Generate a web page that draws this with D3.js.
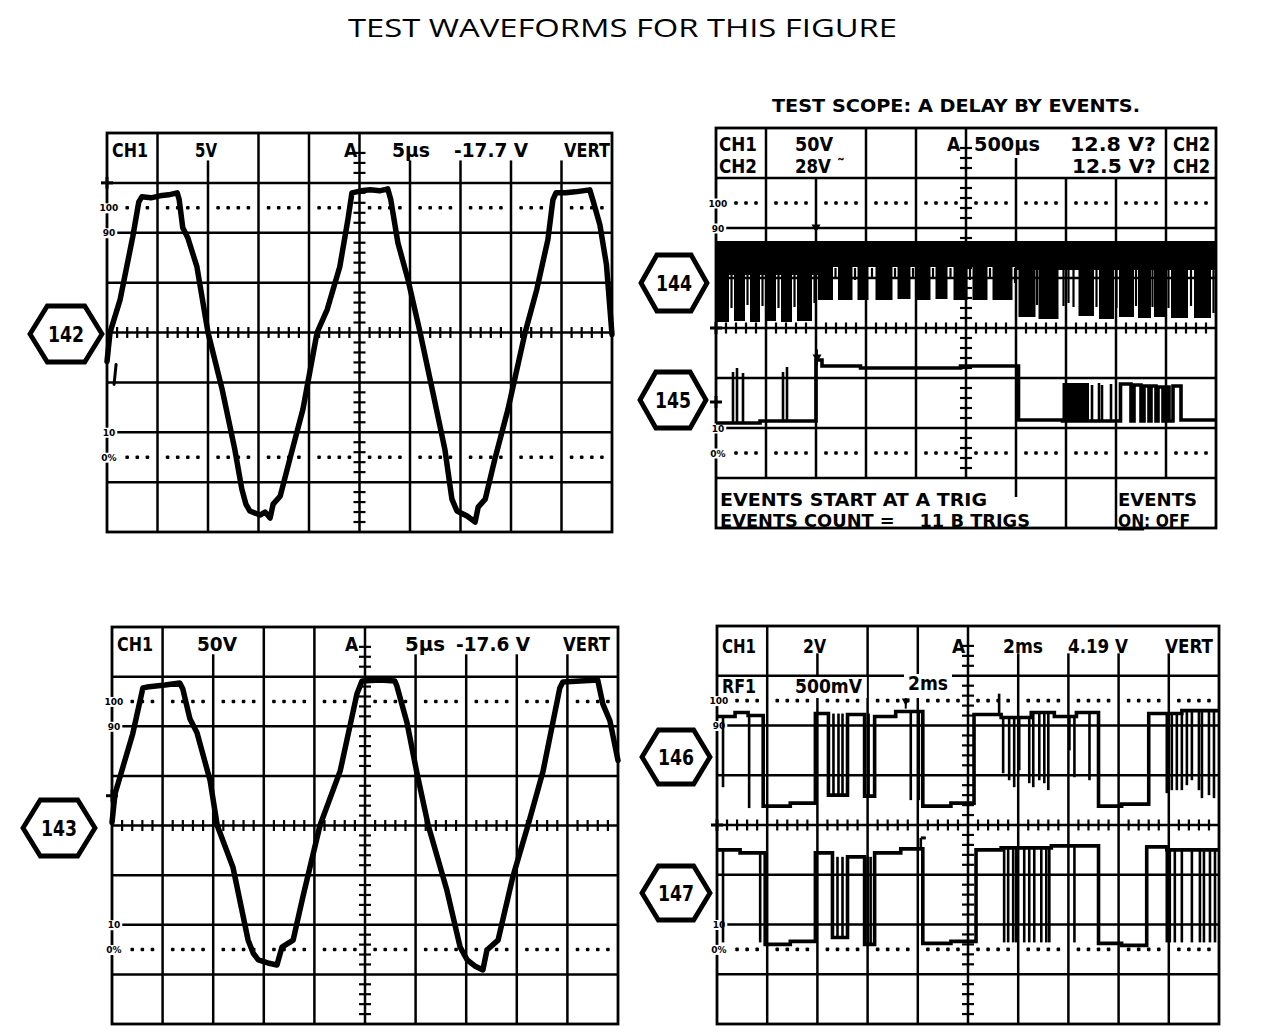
<!DOCTYPE html>
<html>
<head>
<meta charset="utf-8">
<script src="https://cdn.jsdelivr.net/npm/d3@7"></script>
<style>
  html, body { margin: 0; padding: 0; background: #fff; }
  svg { display: block; }
</style>
</head>
<body>
<svg id="chart" width="1266" height="1035"></svg>
<script>
// ---------------------------------------------------------------------------
// Waveform data. Time is in screen divisions (0..10, left to right),
// level is in divisions from the centre graticule line (+4 top, -4 bottom).
// ---------------------------------------------------------------------------

// 142: CH1 5 V/div, 5 us/div
const trace142 = [[0,-0.58],[0.06,0],[0.26,0.66],[0.51,1.92],[0.63,2.62],[0.69,2.72],[0.87,2.70],[1.05,2.74],[1.22,2.76],[1.39,2.80],[1.43,2.66],[1.50,2.10],[1.60,1.90],[1.78,1.32],[2.00,0],[2.28,-1.14],[2.53,-2.34],[2.67,-3.14],[2.75,-3.44],[2.83,-3.58],[3.03,-3.66],[3.13,-3.60],[3.23,-3.72],[3.29,-3.44],[3.43,-3.28],[3.62,-2.54],[3.88,-1.54],[4.16,0],[4.36,0.46],[4.61,1.32],[4.77,2.26],[4.85,2.80],[5.03,2.84],[5.21,2.86],[5.40,2.84],[5.56,2.88],[5.62,2.66],[5.76,1.80],[5.96,1.06],[6.20,0],[6.44,-1.14],[6.69,-2.34],[6.83,-3.34],[6.93,-3.58],[7.13,-3.68],[7.29,-3.80],[7.35,-3.50],[7.49,-3.34],[7.68,-2.54],[7.94,-1.54],[8.28,0],[8.51,0.86],[8.73,1.86],[8.83,2.66],[8.89,2.80],[9.08,2.80],[9.27,2.82],[9.56,2.86],[9.62,2.66],[9.76,2.16],[9.89,1.36],[10,-0.04]];
const trace142Fragment = [[0.18,-0.64],[0.14,-1.04]];

// 143: CH1 50 V/div, 5 us/div
const trace143 = [[0,0.06],[0.06,0.64],[0.41,1.85],[0.61,2.77],[0.69,2.79],[1.05,2.83],[1.34,2.87],[1.40,2.75],[1.54,2.15],[1.68,1.87],[1.94,0.90],[2.08,0],[2.39,-0.84],[2.69,-2.31],[2.79,-2.57],[2.89,-2.71],[3.08,-2.77],[3.26,-2.81],[3.36,-2.45],[3.58,-2.31],[3.77,-1.45],[4.11,0],[4.51,1.10],[4.84,2.65],[4.94,2.91],[5.30,2.93],[5.59,2.91],[5.63,2.81],[5.83,2.07],[6.03,1.04],[6.25,0],[6.62,-1.31],[6.88,-2.45],[7.02,-2.71],[7.17,-2.83],[7.33,-2.91],[7.41,-2.51],[7.63,-2.31],[7.92,-1.04],[8.22,0],[8.52,1.10],[8.85,2.77],[8.91,2.89],[9.25,2.91],[9.60,2.93],[9.70,2.45],[9.84,2.11],[10,1.31]];

// 144: CH1 dense pulse train — upper rail, solid band, pulse bars and stubs
const top144 = 1.74;
const shoulder144 = [[0,2.04,1.06],[2.04,6.0,1.22],[6.0,10,1.16]];
const bars144 = [[0,0.26,0.12],[0.36,0.58,0.14],[0.68,0.88,0.12],[0.98,1.20,0.14],[1.30,1.52,0.12],[1.62,1.92,0.14],
  [2.04,2.34,0.56],[2.44,2.73,0.56],[2.83,3.05,0.56],[3.19,3.53,0.56],[3.63,3.89,0.58],[3.99,4.29,0.56],[4.39,4.63,0.58],[4.75,5.03,0.56],[5.13,5.43,0.56],[5.53,5.93,0.56],
  [6.05,6.39,0.22],[6.45,6.85,0.18],[7.25,7.56,0.24],[7.66,7.96,0.18],[8.06,8.36,0.22],[8.44,8.70,0.20],[8.76,9.00,0.22],[9.10,9.44,0.20],[9.56,9.90,0.20]];
const stubs144 = [[0.31,0.40],[0.63,0.46],[0.93,0.44],[1.25,0.40],[1.57,0.42],[1.97,0.50],[2.39,1.00],[2.78,0.96],[3.12,1.00],[3.58,0.98],[3.94,1.02],[4.34,0.98],[4.69,1.00],[5.08,0.96],[5.48,1.00],[5.98,0.90],[6.42,0.46],[6.95,0.44],[7.05,0.50],[7.15,0.42],[7.61,0.42],[8.01,0.40],[8.40,0.44],[8.73,0.42],[9.05,0.40],[9.50,0.44],[9.95,0.30]];

// 145: CH2 event line — level segments [t0, t1, level], filled burst, narrow spikes
const levels145 = [[0,0.88,-1.90],[0.88,2.00,-1.86],[2.00,2.12,-0.64],[2.12,2.89,-0.76],[2.89,4.89,-0.80],[4.89,6.05,-0.76],[6.05,6.93,-1.84],[6.93,7.50,-1.86],[7.50,8.09,-1.86],[8.09,8.30,-1.12],[8.30,8.36,-1.86],[8.36,8.50,-1.14],[8.50,8.56,-1.86],[8.56,8.66,-1.16],[8.66,8.70,-1.86],[8.70,8.80,-1.16],[8.80,8.84,-1.86],[8.84,8.94,-1.18],[8.94,9.00,-1.86],[9.00,9.06,-1.18],[9.06,9.14,-1.86],[9.14,9.30,-1.16],[9.30,10,-1.84]];
const burst145 = [[6.93,7.46,-1.10]];
const spikes145 = [[0.34,-0.88],[0.42,-0.80],[0.54,-0.90],[1.34,-0.88],[1.42,-0.78],[7.52,-1.14],[7.66,-1.10],[7.72,-1.14],[7.90,-1.12]];

// 146: CH1 2 V/div, 2 ms/div
const levels146 = [[0,0.36,2.18],[0.36,0.62,2.26],[0.62,0.92,2.20],[0.92,1.46,0.38],[1.46,1.96,0.44],[1.96,2.22,2.24],[2.22,2.60,0.60],[2.60,2.94,2.22],[2.94,3.14,0.58],[3.14,3.56,2.18],[3.56,4.10,2.28],[4.10,4.66,0.38],[4.66,5.12,0.44],[5.12,5.66,2.22],[5.66,6.26,2.16],[6.26,6.72,2.26],[6.72,7.16,2.18],[7.16,7.60,2.26],[7.60,8.06,0.38],[8.06,8.60,0.42],[8.60,9.26,2.24],[9.26,10,2.30]];
const spikes146 = [[0.12,0.76],[0.64,0.34],[2.32,2.24],[2.42,2.24],[2.50,2.24],[3.02,2.24],[3.86,0.50],[4.02,0.50],[5.62,2.64],[5.70,1.04],[5.82,0.90],[5.92,0.76],[6.02,1.10],[6.22,0.84],[6.30,0.76],[6.42,0.90],[6.52,0.84],[6.60,0.70],[7.02,1.50],[7.12,0.96],[7.42,0.90],[8.96,0.64],[9.06,0.70],[9.16,0.70],[9.26,0.70],[9.36,0.80],[9.46,0.90],[9.60,0.70],[9.66,0.54],[9.80,0.60],[9.90,0.54]];

// 147: RF1 500 mV/div, 2 ms/div
const levels147 = [[0,0.46,-0.50],[0.46,0.96,-0.56],[0.96,1.46,-2.40],[1.46,1.96,-2.34],[1.96,2.30,-0.56],[2.30,2.60,-2.26],[2.60,2.94,-0.64],[2.94,3.14,-2.40],[3.14,3.66,-0.56],[3.66,4.10,-0.48],[4.10,4.66,-2.38],[4.66,5.16,-2.34],[5.16,5.66,-0.50],[5.66,6.66,-0.46],[6.66,7.60,-0.42],[7.60,8.06,-2.38],[8.06,8.56,-2.42],[8.56,8.96,-0.44],[8.96,10,-0.50]];
const spikes147 = [[0.12,-2.36],[0.86,-2.36],[2.40,-0.64],[2.50,-0.64],[3.00,-0.64],[3.06,-0.64],[4.06,-0.26],[5.72,-2.36],[5.80,-2.36],[5.90,-2.36],[5.96,-2.36],[6.12,-2.36],[6.22,-2.36],[6.32,-2.36],[6.46,-2.36],[6.56,-2.36],[6.62,-2.36],[7.12,-2.36],[8.96,-2.36],[9.02,-2.36],[9.12,-2.36],[9.26,-2.36],[9.46,-2.36],[9.62,-2.36],[9.70,-2.36],[9.82,-2.36],[9.92,-2.36]];

// Screen read-outs and annotations
const titleText = "TEST WAVEFORMS FOR THIS FIGURE";
const subtitleText = "TEST SCOPE: A DELAY BY EVENTS.";
const readout142 = ["CH1", "5V", "A", "5µs", "-17.7 V", "VERT"];
const readout143 = ["CH1", "50V", "A", "5µs", "-17.6 V", "VERT"];
const readout144Row1 = ["CH1", "50V", "A", "500µs", "12.8 V?", "CH2"];
const readout144Row2 = ["CH2", "28V ˜", "12.5 V?", "CH2"];
const eventsRow1 = ["EVENTS START AT A TRIG", "EVENTS"];
const eventsRow2 = ["EVENTS COUNT =    11 B TRIGS", "ON: OFF"];
const readout146 = ["CH1", "2V", "A", "2ms", "4.19 V", "VERT"];
const readout147 = ["RF1", "500mV", "2ms"];
const levelLabels = ["100", "90", "10", "0%"];
const levelValues = [2.5, 2, -2, -2.5];
const traceIds = ["142", "143", "144", "145", "146", "147"];

// ---------------------------------------------------------------------------
const svg = d3.select("#chart");
const FONT = "'DejaVu Sans Condensed','DejaVu Sans',sans-serif";
const GRID_W = 2.5;

function panel(p) {
  p.x = d3.scaleLinear().domain([0, 10]).range([p.x0, p.x1]);
  p.y = d3.scaleLinear().domain([-4, 4]).range([p.y1, p.y0]);
  return p;
}

const PTL = panel({x0: 107, x1: 612, y0: 133, y1: 532, headFull: [1, 3, 4], headPart: [2, 6, 7, 8, 9], partLen: 0.45});
const PBL = panel({x0: 112, x1: 618, y0: 627, y1: 1024, headFull: [1, 3, 4], headPart: [2, 6, 7, 8, 9], partLen: 0.45});
const PTR = panel({x0: 716, x1: 1216, y0: 128, y1: 528, headFull: [1, 3, 4, 9], headPart: [6], partLen: 0.4,
                   footer: true, footFull: [7, 8], footPart: [6]});
const PBR = panel({x0: 717, x1: 1219, y0: 626, y1: 1024, headFull: [1, 3, 4], headPart: [2, 6, 7, 8, 9], partLen: 0.45});

function seg(g, x1, y1, x2, y2, w) {
  g.append("line").attr("x1", x1).attr("y1", y1).attr("x2", x2).attr("y2", y2)
    .attr("stroke", "#000").attr("stroke-width", w || GRID_W);
}

function text(g, s, x, y, size, opt = {}) {
  const t = g.append("text")
    .attr("x", x).attr("y", y)
    .attr("font-family", opt.family || FONT)
    .attr("font-size", size)
    .attr("font-weight", opt.weight || "bold")
    .attr("text-anchor", opt.anchor || "start")
    .attr("fill", "#000")
    .style("white-space", "pre")
    .text(s);
  if (opt.len) t.attr("textLength", opt.len).attr("lengthAdjust", "spacingAndGlyphs");
  if (opt.knock) {
    const b = t.node().getBBox();
    const pad = opt.knock;
    g.insert("rect", () => t.node())
      .attr("x", b.x - pad).attr("y", b.y + 2)
      .attr("width", b.width + 2 * pad).attr("height", (y + (opt.below || 2)) - (b.y + 2))
      .attr("fill", "#fff");
  }
  return t;
}

function graticule(P) {
  const g = svg.append("g");
  const { x, y } = P;
  const lo = P.footer ? -3 : -4;
  // horizontal division lines
  [3, 2, 1, 0, -1, -2, -3].forEach(v => seg(g, x(0), y(v), x(10), y(v)));
  // vertical division lines within the graticule
  [1, 2, 3, 4, 6, 7, 8, 9].forEach(t => seg(g, x(t), y(3), x(t), y(lo)));
  // header separators
  P.headFull.forEach(t => seg(g, x(t), y(4), x(t), y(3)));
  P.headPart.forEach(t => seg(g, x(t), y(3 + P.partLen), x(t), y(3)));
  if (P.footer) {
    P.footFull.forEach(t => seg(g, x(t), y(-3), x(t), y(-4)));
    P.footPart.forEach(t => seg(g, x(t), y(-3), x(t), y(-3 - 0.38)));
  }
  // centre vertical axis with minor ticks
  seg(g, x(5), y(4), x(5), y(lo));
  for (let i = 19; i >= lo * 5 + 1; i--) {
    if (i % 5 === 0) continue;
    const v = i / 5;
    if (v > 3.75) continue;
    seg(g, x(5) - 6, y(v), x(5) + 6, y(v), 2.2);
  }
  // centre horizontal axis ticks
  for (let i = 1; i < 50; i++) {
    if (i % 5 === 0) continue;
    seg(g, x(i / 5), y(0) - 5.5, x(i / 5), y(0) + 5.5, 2.2);
  }
  // 100 % and 0 % dotted rows
  [2.5, -2.5].forEach(v => {
    for (let k = 0; k < 10; k++) {
      for (let j = 1; j <= 4; j++) {
        if (k === 0 && j === 1) continue;
        g.append("rect").attr("x", x(k + 0.2 * j) - 1.8).attr("y", y(v) - 1.8)
          .attr("width", 3.6).attr("height", 3.6).attr("rx", 1).attr("fill", "#000");
      }
    }
  });
  // outer frame
  g.append("rect").attr("x", P.x0).attr("y", P.y0).attr("width", P.x1 - P.x0).attr("height", P.y1 - P.y0)
    .attr("fill", "none").attr("stroke", "#000").attr("stroke-width", 2.8);
  // level labels sitting on the left frame
  levelLabels.forEach((s, i) => {
    const t = text(g, s, P.x0 + 2, y(levelValues[i]) + 3.5, 9, { anchor: "middle", family: "'DejaVu Sans',sans-serif" });
    const b = t.node().getBBox();
    g.insert("rect", () => t.node()).attr("x", b.x - 2).attr("y", b.y).attr("width", b.width + 4).attr("height", b.height)
      .attr("fill", "#fff");
  });
  return g;
}

[PTL, PBL, PTR, PBR].forEach(graticule);

// ---------------------------------------------------------------------------
// Traces
function drawCurve(P, pts, w) {
  const line = d3.line().x(d => P.x(d[0])).y(d => P.y(d[1]));
  svg.append("path").attr("d", line(pts)).attr("fill", "none").attr("stroke", "#000")
    .attr("stroke-width", w).attr("stroke-linejoin", "round").attr("stroke-linecap", "round");
}

function levelAt(levels, t) {
  const s = levels.find(d => t >= d[0] && t <= d[1]);
  return s ? s[2] : levels[levels.length - 1][2];
}

function drawStep(P, levels, spikes, w) {
  const pts = [];
  levels.forEach(([t0, t1, v]) => { pts.push([t0, v], [t1, v]); });
  const line = d3.line().x(d => P.x(d[0])).y(d => P.y(d[1]));
  svg.append("path").attr("d", line(pts)).attr("fill", "none").attr("stroke", "#000")
    .attr("stroke-width", w).attr("stroke-linejoin", "miter");
  svg.append("g").selectAll("line").data(spikes).join("line")
    .attr("x1", d => P.x(d[0])).attr("x2", d => P.x(d[0]))
    .attr("y1", d => P.y(levelAt(levels, d[0]))).attr("y2", d => P.y(d[1]))
    .attr("stroke", "#000").attr("stroke-width", 2.6);
}

drawCurve(PTL, trace142, 5.5);
drawCurve(PTL, trace142Fragment, 3);
drawCurve(PBL, trace143, 5.5);

// 144 pulse train
{
  const P = PTR, g = svg.append("g");
  g.selectAll("rect.band").data(shoulder144).join("rect")
    .attr("x", d => P.x(d[0])).attr("width", d => P.x(d[1]) - P.x(d[0]))
    .attr("y", P.y(top144)).attr("height", d => P.y(d[2]) - P.y(top144)).attr("fill", "#000");
  g.selectAll("rect.bar").data(bars144).join("rect")
    .attr("x", d => P.x(d[0])).attr("width", d => P.x(d[1]) - P.x(d[0]))
    .attr("y", P.y(top144)).attr("height", d => P.y(d[2]) - P.y(top144)).attr("fill", "#000");
  g.selectAll("line").data(stubs144).join("line")
    .attr("x1", d => P.x(d[0])).attr("x2", d => P.x(d[0]))
    .attr("y1", P.y(1.2)).attr("y2", d => P.y(d[1]))
    .attr("stroke", "#000").attr("stroke-width", 2.2);
}

// 145 event line
{
  const P = PTR;
  svg.append("g").selectAll("rect").data(burst145).join("rect")
    .attr("x", d => P.x(d[0])).attr("width", d => P.x(d[1]) - P.x(d[0]))
    .attr("y", d => P.y(d[2])).attr("height", d => P.y(-1.86) - P.y(d[2])).attr("fill", "#000");
  drawStep(P, levels145, spikes145, 3.6);
}

drawStep(PBR, levels146, spikes146, 3.6);
drawStep(PBR, levels147, spikes147, 3.6);

// Trigger and ground markers
function groundMark(P, v) {
  const g = svg.append("g");
  seg(g, P.x0 - 6, P.y(v), P.x0 + 6, P.y(v), 3);
  seg(g, P.x0, P.y(v) - 6, P.x0, P.y(v) + 6, 3);
}
groundMark(PTL, 3);
groundMark(PBL, 0.6);
groundMark(PTR, 0);
groundMark(PTR, -1.48);
groundMark(PBR, 0);

function trigMark(P, t, v, size) {
  const cx = P.x(t), cy = P.y(v);
  svg.append("path").attr("d", `M${cx - size},${cy - size} L${cx + size},${cy - size} L${cx},${cy + size * 0.8} Z`).attr("fill", "#000");
  seg(svg, cx, cy - size - 5, cx, cy + size + 2, 2);
}
trigMark(PTR, 2.0, 1.98, 4.5);
trigMark(PTR, 2.02, -0.62, 4.5);
trigMark(PBR, 3.76, 2.46, 4);
seg(svg, PBR.x(4.06), PBR.y(-0.26), PBR.x(4.16), PBR.y(-0.26), 3);

// ---------------------------------------------------------------------------
// Read-outs
const T = svg.append("g");
text(T, titleText, 348, 37, 26, { family: "'Open Sans','DejaVu Sans',sans-serif", weight: "normal", len: 549 });
text(T, subtitleText, 772, 112, 18, { len: 368 });

const HS = 19;
// 142 panel
[[0, 112, 36], [1, 195, 22], [2, 344], [3, 392, 38], [4, 454, 74], [5, 564, 46]]
  .forEach(([i, x, len]) => text(T, readout142[i], x, 157, HS, { len }));
// 143 panel
[[0, 117, 36], [1, 197, 40], [2, 345], [3, 405, 40], [4, 456, 74], [5, 563, 47]]
  .forEach(([i, x, len]) => text(T, readout143[i], x, 651, HS, { len }));
// 144/145 panel, two-row header
[[0, 719, 38], [1, 795, 38], [2, 947], [3, 974, 66], [4, 1070, 86], [5, 1173, 37]]
  .forEach(([i, x, len]) => text(T, readout144Row1[i], x, 151, HS, { len }));
[[0, 719, 38], [1, 795, 50], [2, 1072, 84], [3, 1173, 37]]
  .forEach(([i, x, len]) => text(T, readout144Row2[i], x, 173, HS, { len }));
text(T, eventsRow1[0], 720, 506, 18, { len: 267 });
text(T, eventsRow1[1], 1118, 506, 18, { len: 79 });
{
  text(T, eventsRow2[0], 720, 527, 18, { len: 310 });
  const e = text(T, eventsRow2[1], 1118, 527, 18, { len: 72 });
  const onWidth = 72 * e.node().getSubStringLength(0, 2) / e.node().getComputedTextLength();
  seg(T, 1118, 529.5, 1118 + onWidth, 529.5, 2);
}
// 146/147 panel
[[0, 722, 34], [1, 803, 23], [2, 952], [3, 1003, 40], [4, 1068, 60], [5, 1165, 48]]
  .forEach(([i, x, len]) => text(T, readout146[i], x, 653, HS, { len }));
text(T, readout147[0], 722, 693, HS, { knock: 2, len: 34 });
text(T, readout147[1], 795, 693, HS, { knock: 4, len: 67, below: 5 });
text(T, readout147[2], 908, 690, HS, { knock: 4, len: 40, below: 8 });

// ---------------------------------------------------------------------------
// Reference hexagons
const hexPos = [[66, 334, 72, 56], [59, 828, 72, 56], [674, 283, 66, 56], [673, 400, 66, 56], [676, 757, 68, 54], [676, 893, 68, 54]];
traceIds.forEach((id, i) => {
  const [cx, cy, w, h] = hexPos[i];
  const s = w * 0.24;
  const pts = [[-w / 2, 0], [-w / 2 + s, -h / 2], [w / 2 - s, -h / 2], [w / 2, 0], [w / 2 - s, h / 2], [-w / 2 + s, h / 2]]
    .map(p => [cx + p[0], cy + p[1]]);
  svg.append("path").attr("d", "M" + pts.join("L") + "Z").attr("fill", "#fff").attr("stroke", "#000")
    .attr("stroke-width", 4.8).attr("stroke-linejoin", "miter");
  text(svg, id, cx, cy + 8, 22, { anchor: "middle", len: 36 });
});
</script>
</body>
</html>
